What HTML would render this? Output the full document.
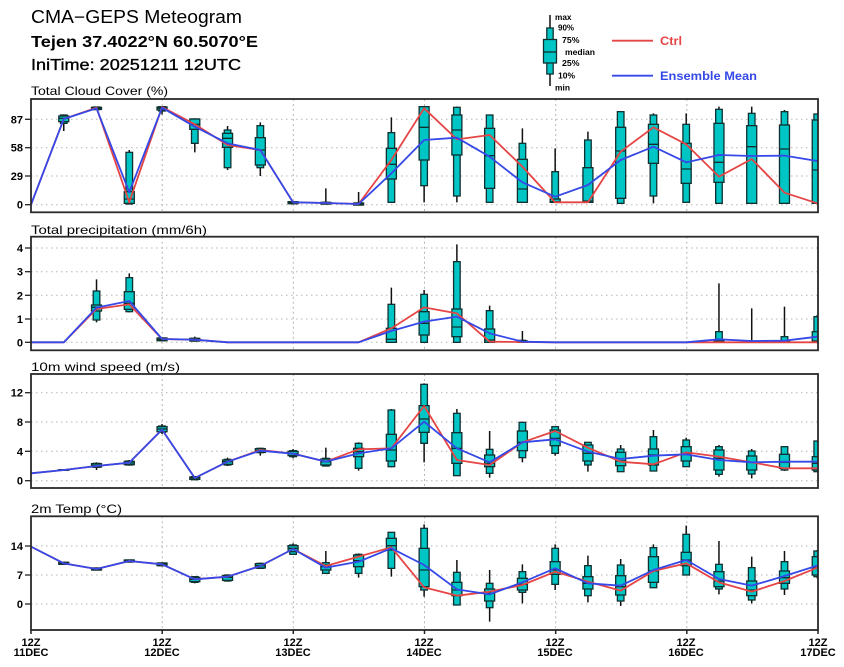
<!DOCTYPE html>
<html><head><meta charset="utf-8">
<style>
html,body{margin:0;padding:0;background:#fff;}
svg{display:block;}
</style></head>
<body>
<svg id="s" width="844" height="667" viewBox="0 0 844 667" xmlns="http://www.w3.org/2000/svg" font-family="'Liberation Sans', sans-serif">
<rect width="844" height="667" fill="#fff"/>
<!-- Header -->
<text x="31" y="23" font-size="18" textLength="211" lengthAdjust="spacingAndGlyphs">CMA−GEPS Meteogram</text>
<text x="31" y="47" font-size="16" font-weight="bold" textLength="227" lengthAdjust="spacingAndGlyphs">Tejen 37.4022°N 60.5070°E</text>
<text x="31" y="70" font-size="16" stroke="#000" stroke-width="0.35" textLength="210" lengthAdjust="spacingAndGlyphs">IniTime: 20251211 12UTC</text>

<!-- Legend -->
<g>
<line x1="550" y1="15" x2="550" y2="86" stroke="#111" stroke-width="1.5"/>
<rect x="546.8" y="28" width="6.4" height="46" fill="#00c5c5" stroke="#103030" stroke-width="1.3"/>
<rect x="543.5" y="39.5" width="13" height="23.5" fill="#00c5c5" stroke="#103030" stroke-width="1.3"/>
<line x1="543.5" y1="52" x2="556.5" y2="52" stroke="#103030" stroke-width="1.3"/>
<g font-size="8.5" font-weight="bold">
<text x="555" y="20" textLength="16.5" lengthAdjust="spacingAndGlyphs">max</text>
<text x="558" y="30.5" textLength="16" lengthAdjust="spacingAndGlyphs">90%</text>
<text x="562" y="43" textLength="17.5" lengthAdjust="spacingAndGlyphs">75%</text>
<text x="565" y="55" textLength="30" lengthAdjust="spacingAndGlyphs">median</text>
<text x="562" y="66" textLength="17.5" lengthAdjust="spacingAndGlyphs">25%</text>
<text x="558" y="78.5" textLength="17" lengthAdjust="spacingAndGlyphs">10%</text>
<text x="555" y="90.5" textLength="15" lengthAdjust="spacingAndGlyphs">min</text>
</g>
<line x1="612" y1="40.7" x2="653" y2="40.7" stroke="#e64545" stroke-width="1.8"/>
<text x="660" y="45" font-size="12" font-weight="bold" fill="#e64545" textLength="22" lengthAdjust="spacingAndGlyphs">Ctrl</text>
<line x1="612" y1="75.7" x2="653" y2="75.7" stroke="#3548e8" stroke-width="1.8"/>
<text x="660" y="80" font-size="12" font-weight="bold" fill="#3548e8" textLength="97" lengthAdjust="spacingAndGlyphs">Ensemble Mean</text>
</g>

<!-- Panel titles -->
<g font-size="12">
<text x="31" y="95" textLength="137" lengthAdjust="spacingAndGlyphs">Total Cloud Cover (%)</text>
<text x="31" y="234" textLength="176" lengthAdjust="spacingAndGlyphs">Total precipitation (mm/6h)</text>
<text x="31" y="371" textLength="149" lengthAdjust="spacingAndGlyphs">10m wind speed (m/s)</text>
<text x="31" y="513" textLength="91" lengthAdjust="spacingAndGlyphs">2m Temp (°C)</text>
</g>

<!-- Y tick labels -->
<g font-size="11" font-weight="bold" text-anchor="end">
<text x="23" y="123.3">87</text>
<text x="23" y="151.7">58</text>
<text x="23" y="180">29</text>
<text x="23" y="208.7">0</text>

<text x="23" y="252">4</text>
<text x="23" y="275.7">3</text>
<text x="23" y="299.3">2</text>
<text x="23" y="323">1</text>
<text x="23" y="346.3">0</text>

<text x="23" y="396.7">12</text>
<text x="23" y="426">8</text>
<text x="23" y="455.3">4</text>
<text x="23" y="484.7">0</text>

<text x="23" y="550">14</text>
<text x="23" y="579">7</text>
<text x="23" y="608">0</text>
</g>

<!-- X labels -->
<g font-size="11" font-weight="bold" text-anchor="middle">
<text x="31" y="646">12Z</text><text x="31" y="656">11DEC</text>
<text x="162" y="646">12Z</text><text x="162" y="656">12DEC</text>
<text x="293" y="646">12Z</text><text x="293" y="656">13DEC</text>
<text x="424" y="646">12Z</text><text x="424" y="656">14DEC</text>
<text x="555" y="646">12Z</text><text x="555" y="656">15DEC</text>
<text x="686" y="646">12Z</text><text x="686" y="656">16DEC</text>
<text x="818" y="646">12Z</text><text x="818" y="656">17DEC</text>
</g>

<g id="plots"></g>
</svg>
<script>
(function(){
var NS="http://www.w3.org/2000/svg";
function X(i){return 31+i*32.76;}
var P=[
{base:95,top:99,bot:212.3,ticks:[204.7,176,147.7,119.3],
 ctrl:[329,72,38,322,36,88,150,165,322,324,327,195,40,133,120,215,322,322,170,97,148,245,192,293,325],
 mean:[329,72,40,292,38,95,145,165,322,324,327,235,135,128,185,262,305,270,195,155,202,180,183,182,198],
 box:{1:[58,108,60,85,63,80,70],2:[35,45,36,44,37,43,40],3:[165,327,172,327,290,325,312],4:[33,58,35,48,36,45,40],5:[70,172,72,145,72,103,88],6:[93,225,105,218,115,157,130],7:[82,243,92,218,128,210,165],8:[320,326,320,326,320,326,323],9:[280,327,322,327,322,327,325],10:[291,329,324,330,324,330,327],11:[67,322,113,322,160,252,208],12:[35,322,35,272,35,195,97],13:[35,322,37,303,60,180,105],14:[60,322,60,322,100,280,182],15:[100,322,145,322,193,322,282],16:[160,322,230,322,312,322,320],17:[110,322,135,322,218,322,318],18:[50,325,50,325,97,310,168],19:[55,325,60,303,88,205,148],20:[55,322,88,322,145,265,222],21:[35,325,43,325,85,262,202],22:[35,325,55,325,92,325,155],23:[45,325,50,325,90,325,162],24:[57,325,57,325,75,325,225]}},
{base:215,top:236.7,bot:350.3,ticks:[342.3,319,295.3,271.7,248],
 ctrl:[382,382,282,268,372,374,382,382,382,382,382,340,277,295,380,381,382,382,382,382,382,382,382,382,382],
 mean:[382,382,278,258,372,374,382,382,382,382,382,348,320,305,355,380,382,382,382,382,382,373,378,377,365],
 box:{2:[193,322,228,315,270,288,277],3:[175,292,188,290,230,283,265],4:[368,378,369,377,369,377,373],5:[365,380,370,378,370,378,374],11:[218,382,268,382,340,382,373],12:[225,382,238,382,290,360,325],13:[88,382,140,382,282,365,336],14:[272,382,287,382,342,382,375],15:[348,382,376,382,378,382,380],21:[205,382,350,382,378,382,381],22:[280,382,380,382,381,382,382],23:[275,382,365,382,378,382,381],24:[300,382,305,382,350,382,378]}},
{base:355,top:374,bot:488,ticks:[480.7,451.3,422,392.7],
 ctrl:[355,345,333,323,224,369,320,285,296,320,283,280,153,315,330,262,228,278,320,328,292,305,322,340,340],
 mean:[355,345,333,323,224,369,320,287,296,320,295,280,200,280,322,262,253,290,312,302,298,315,322,320,320],
 box:{1:[343,347,344,346,344,346,345],2:[322,345,325,337,326,336,331],3:[315,332,318,330,319,329,324],4:[207,237,213,232,215,230,222],5:[363,376,365,374,366,373,369],6:[308,333,313,330,315,328,320],7:[278,302,280,293,281,292,286],8:[282,310,287,305,289,302,296],9:[278,333,310,333,312,330,320],10:[262,347,265,340,280,305,290],11:[162,337,165,335,238,318,285],12:[85,322,88,265,152,232,192],13:[162,362,175,362,233,325,280],14:[228,368,283,355,300,335,325],15:[200,322,202,308,228,287,262],16:[215,302,215,295,225,272,250],17:[262,350,262,330,270,318,295],18:[270,350,282,350,292,332,318],19:[225,348,245,348,282,330,300],20:[248,335,255,335,275,318,295],21:[270,365,275,358,285,345,310],22:[282,370,288,357,303,345,322],23:[275,348,275,345,298,340,322],24:[258,350,258,350,305,345,325]}},
{base:495,top:516.3,bot:630,ticks:[604,575,546],
 ctrl:[155,205,222,198,208,253,245,213,162,213,185,157,277,302,290,270,230,260,287,228,205,262,290,258,218],
 mean:[155,205,222,198,208,253,245,213,162,218,200,160,210,283,298,262,220,265,272,225,195,252,272,243,212],
 box:{1:[202,208,202,208,202,208,205],2:[219,225,219,225,219,225,222],3:[195,201,195,201,195,201,198],4:[202,214,204,212,204,212,208],5:[243,265,245,262,247,260,253],6:[238,260,240,258,242,256,247],7:[203,222,205,220,206,219,212],8:[145,180,150,178,152,170,160],9:[168,235,203,235,210,225,215],10:[175,248,178,235,180,215,197],11:[112,245,112,220,130,165,152],12:[88,305,100,285,160,275,225],13:[195,330,232,330,262,302,285],14:[225,380,265,338,282,318,295],15:[208,325,230,292,250,285,268],16:[148,285,160,268,200,238,225],17:[182,322,212,302,245,282,265],18:[192,333,210,318,242,300,275],19:[148,278,158,278,185,262,228],20:[92,240,118,240,172,212,195],21:[138,298,208,282,230,275,258],22:[185,325,218,315,258,302,285],23:[168,300,200,282,228,265,248],24:[165,250,168,245,185,240,218]}}
];
var h='';
var defs='<defs>';
P.forEach(function(p,k){defs+='<clipPath id="c'+k+'"><rect x="31" y="'+p.top+'" width="787" height="'+(p.bot-p.top)+'"/></clipPath>';});
defs+='</defs>';
h+=defs;
var CY='#00c5c5',ST='#103030';
P.forEach(function(p,k){
  function Y(v){return (p.base+v/3).toFixed(2);}
  // grid
  p.ticks.forEach(function(t){
    h+='<line x1="31" x2="818" y1="'+t+'" y2="'+t+'" stroke="#b5b5b5" stroke-width="1" stroke-dasharray="1.5 3.5"/>';
    h+='<line x1="25" x2="31" y1="'+t+'" y2="'+t+'" stroke="#222" stroke-width="1.3"/>';
  });
  for(var d=1;d<6;d++){var x=(31+d*131.17).toFixed(1);
    h+='<line x1="'+x+'" x2="'+x+'" y1="'+p.top+'" y2="'+p.bot+'" stroke="#b5b5b5" stroke-width="1" stroke-dasharray="2 3"/>';}
  h+='<g clip-path="url(#c'+k+')">';
  for(var i in p.box){var b=p.box[i],x=X(+i);
    h+='<line x1="'+x+'" x2="'+x+'" y1="'+Y(b[0])+'" y2="'+Y(b[1])+'" stroke="#111" stroke-width="1.5"/>';
    h+='<rect x="'+(x-3.3)+'" y="'+Y(b[2])+'" width="6.6" height="'+((b[3]-b[2])/3+0.01).toFixed(2)+'" fill="'+CY+'" stroke="'+ST+'" stroke-width="1.3"/>';
    h+='<rect x="'+(x-5)+'" y="'+Y(b[4])+'" width="10" height="'+((b[5]-b[4])/3+0.01).toFixed(2)+'" fill="'+CY+'" stroke="'+ST+'" stroke-width="1.3"/>';
    h+='<line x1="'+(x-5)+'" x2="'+(x+5)+'" y1="'+Y(b[6])+'" y2="'+Y(b[6])+'" stroke="'+ST+'" stroke-width="1.3"/>';
  }
  var pc='',pm='';
  for(var j=0;j<25;j++){pc+=X(j).toFixed(2)+','+Y(p.ctrl[j])+' ';pm+=X(j).toFixed(2)+','+Y(p.mean[j])+' ';}
  h+='<polyline points="'+pc+'" fill="none" stroke="#e64545" stroke-width="1.8" stroke-linejoin="round"/>';
  h+='<polyline points="'+pm+'" fill="none" stroke="#3548e8" stroke-width="1.8" stroke-linejoin="round"/>';
  h+='</g>';
  h+='<rect x="31" y="'+p.top+'" width="787" height="'+(p.bot-p.top).toFixed(2)+'" fill="none" stroke="#2a2a2a" stroke-width="1.8"/>';
});
for(var d=0;d<=6;d++){var x=(31+d*131.17).toFixed(1);
  h+='<line x1="'+x+'" x2="'+x+'" y1="630" y2="634" stroke="#222" stroke-width="1.5"/>';}
document.getElementById('plots').innerHTML=h;
})();
</script>
</body></html>
